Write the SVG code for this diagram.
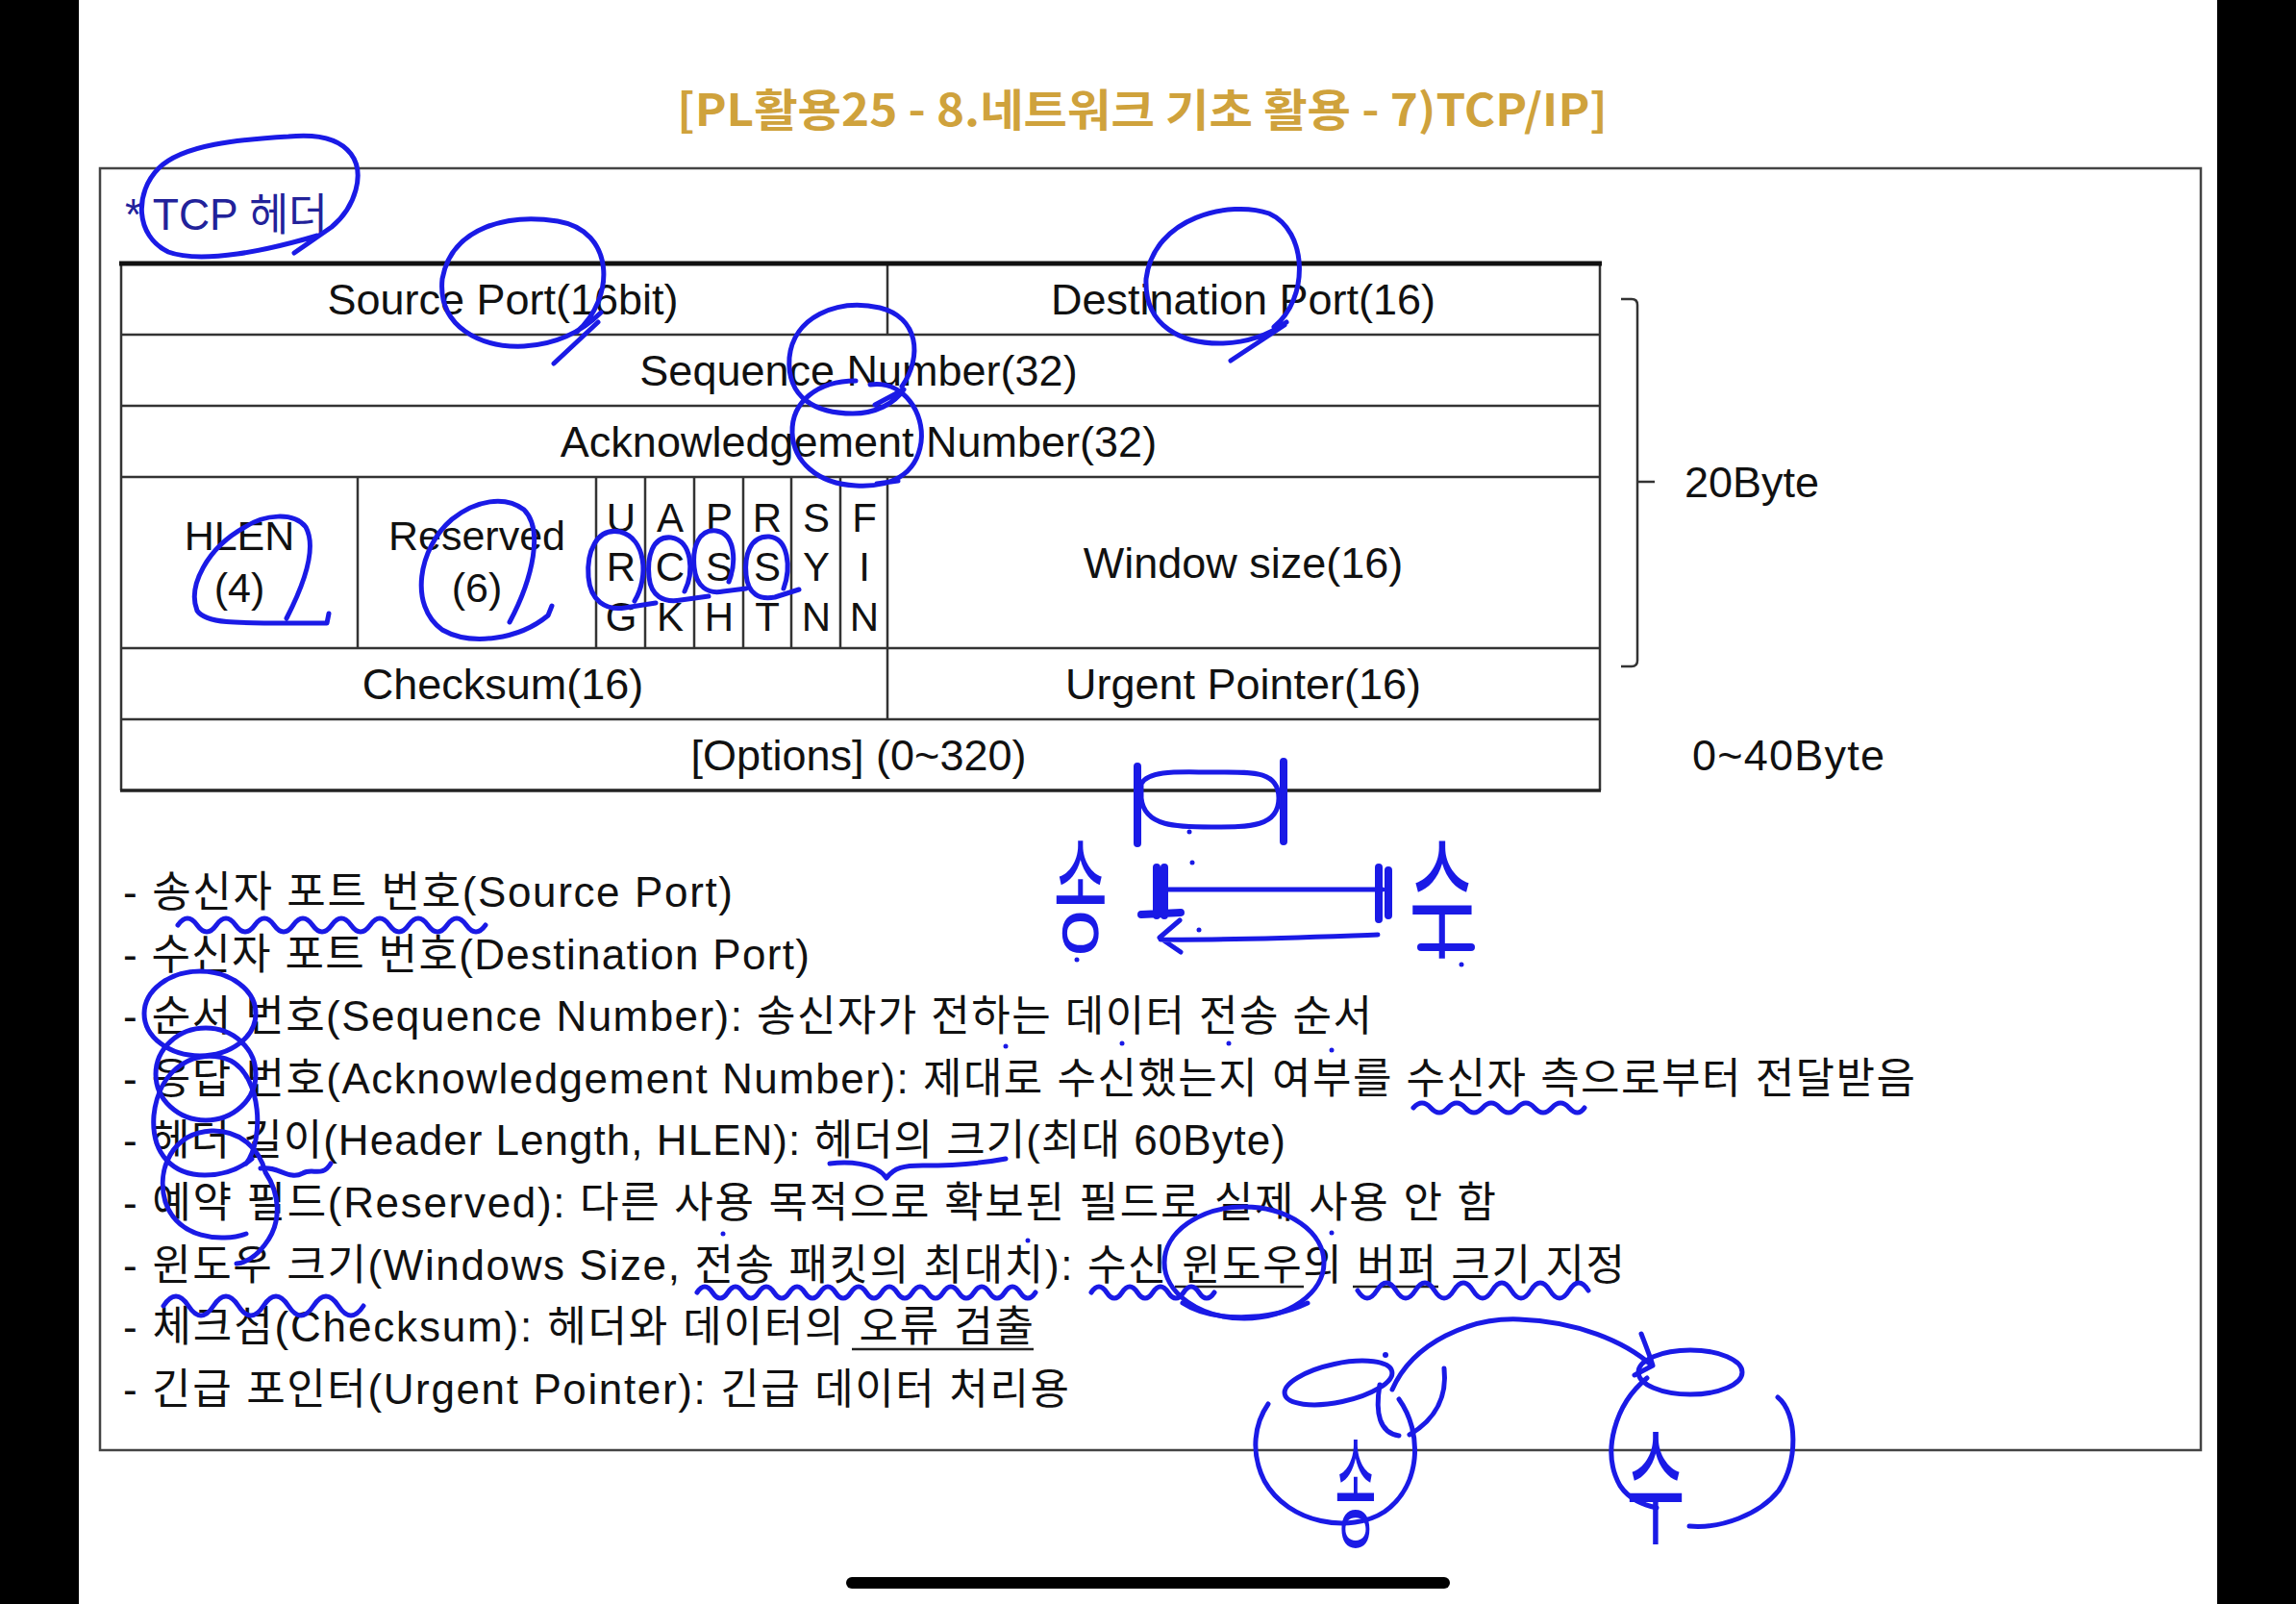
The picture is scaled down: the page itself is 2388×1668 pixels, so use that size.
<svg xmlns="http://www.w3.org/2000/svg" width="2388" height="1668" viewBox="0 0 2388 1668">
<style>
.tbl{font-family:"Liberation Sans",Arial,sans-serif;font-size:45px;fill:#111;text-anchor:middle}
.flag{font-size:42px}
.two{font-size:43px}
.side{font-family:"Liberation Sans",Arial,sans-serif;font-size:45px;fill:#111}
.list{font-family:"Liberation Sans","Noto Sans CJK KR",sans-serif;font-size:44px;fill:#111}
.ink{fill:none;stroke:#1a1ae6;stroke-width:5;stroke-linecap:round;stroke-linejoin:round}
.thick{stroke-width:8}
.dot{fill:#1a1ae6}
.grid{stroke:#333;stroke-width:2.5;fill:none}
.ul{stroke:#222;stroke-width:2.5}
.hand{font-family:"Noto Sans CJK KR",sans-serif;fill:#1a1ae6;text-anchor:middle}
</style>
<rect x="0" y="0" width="2388" height="1668" fill="#ffffff"/>
<rect x="0" y="0" width="82" height="1668" fill="#000"/>
<rect x="2306" y="0" width="82" height="1668" fill="#000"/>
<rect x="880" y="1640" width="628" height="12" rx="6" fill="#000"/>

<g id="title">
<text x="1188" y="131" font-family="'Noto Sans CJK KR',sans-serif" font-size="46" font-weight="bold" fill="#CFA23C" text-anchor="middle" textLength="968" lengthAdjust="spacingAndGlyphs">[PL활용25 - 8.네트워크 기초 활용 - 7)TCP/IP]</text>
</g>

<g id="frame">
<rect x="104" y="175" width="2185" height="1333" fill="none" stroke="#444" stroke-width="2.5"/>
</g>

<g id="heading">
<text x="130" y="239" font-family="'Liberation Sans','Noto Sans CJK KR',sans-serif" font-size="46" fill="#22229a" textLength="211" lengthAdjust="spacingAndGlyphs">* TCP 헤더</text>
</g>

<g id="tcp-header-table">
<path class="grid" d="M126 274V822M1664 274V822M126 348H1664M126 422H1664M126 496H1664M126 674H1664M126 748H1664M923 274V348M923 496V748M372 496V674M620 496V674M671 496V674M722 496V674M773 496V674M823 496V674M874 496V674"/>
<path d="M124 274H1666" stroke="#111" stroke-width="5"/>
<path d="M125 822H1665" stroke="#222" stroke-width="3.5"/>
<g id="cell-source-port"><text class="tbl" x="523" y="327">Source Port(16bit)</text></g>
<g id="cell-destination-port"><text class="tbl" x="1293" y="327">Destination Port(16)</text></g>
<g id="cell-sequence"><text class="tbl" x="893" y="401">Sequence Number(32)</text></g>
<g id="cell-ack"><text class="tbl" x="893" y="475">Acknowledgement Number(32)</text></g>
<g id="cell-hlen"><text class="tbl two" x="249" y="572">HLEN</text><text class="tbl two" x="249" y="626">(4)</text></g>
<g id="cell-reserved"><text class="tbl two" x="496" y="572">Reserved</text><text class="tbl two" x="496" y="626">(6)</text></g>
<g id="cell-flags" class="tbl flag">
<text x="646" y="553">U</text><text x="646" y="604">R</text><text x="646" y="656">G</text>
<text x="697" y="553">A</text><text x="697" y="604">C</text><text x="697" y="656">K</text>
<text x="748" y="553">P</text><text x="748" y="604">S</text><text x="748" y="656">H</text>
<text x="798" y="553">R</text><text x="798" y="604">S</text><text x="798" y="656">T</text>
<text x="849" y="553">S</text><text x="849" y="604">Y</text><text x="849" y="656">N</text>
<text x="899" y="553">F</text><text x="899" y="604">I</text><text x="899" y="656">N</text>
</g>
<g id="cell-window"><text class="tbl" x="1293" y="601">Window size(16)</text></g>
<g id="cell-checksum"><text class="tbl" x="523" y="727">Checksum(16)</text></g>
<g id="cell-urgent"><text class="tbl" x="1293" y="727">Urgent Pointer(16)</text></g>
<g id="cell-options"><text class="tbl" x="893" y="801">[Options] (0~320)</text></g>
</g>

<g id="size-labels">
<path d="M1686 311H1697Q1703 311 1703 317V687Q1703 693 1697 693H1686M1703 501H1721" fill="none" stroke="#333" stroke-width="2.5"/>
<text class="side" x="1752" y="517" textLength="140">20Byte</text>
<text class="side" x="1760" y="801" textLength="200">0~40Byte</text>
</g>

<g id="field-list" class="list">
<text x="128" y="943" textLength="634">- 송신자 포트 번호(Source Port)</text>
<text x="128" y="1008" textLength="714">- 수신자 포트 번호(Destination Port)</text>
<text x="128" y="1072" textLength="1299">- 순서 번호(Sequence Number): 송신자가 전하는 데이터 전송 순서</text>
<text x="128" y="1137" textLength="1864">- 응답 번호(Acknowledgement Number): 제대로 수신했는지 여부를 수신자 측으로부터 전달받음</text>
<text x="128" y="1201" textLength="1209">- 헤더 길이(Header Length, HLEN): 헤더의 크기(최대 60Byte)</text>
<text x="128" y="1266" textLength="1428">- 예약 필드(Reserved): 다른 사용 목적으로 확보된 필드로 실제 사용 안 함</text>
<text x="128" y="1331" textLength="1562">- 윈도우 크기(Windows Size, 전송 패킷의 최대치): 수신 윈도우의 버퍼 크기 지정</text>
<text x="128" y="1395" textLength="947">- 체크섬(Checksum): 헤더와 데이터의 오류 검출</text>
<text x="128" y="1460" textLength="984">- 긴급 포인터(Urgent Pointer): 긴급 데이터 처리용</text>
<path class="ul" d="M886 1403H1075M1222 1338H1356M1407 1338H1496"/>
</g>

<g id="annotations">
<path class="ink" d="M306 263L345 236C370 215 380 180 365 160C350 140 320 140 300 142C250 145 190 150 165 175C140 200 140 245 175 262C210 275 280 260 330 245"/>
<path class="ink" d="M600 345C640 310 640 240 580 230C530 222 470 235 460 290C455 340 500 362 545 360C580 358 605 345 625 325M622 335L576 378"/>
<path class="ink" d="M1325 340C1362 310 1360 240 1320 222C1280 208 1200 225 1192 290C1190 340 1230 358 1272 357C1300 356 1320 348 1338 335M1336 338L1280 375"/>
<path class="ink" d="M938 402C960 370 955 330 915 320C870 310 825 330 821 372C818 415 850 430 887 430C910 430 930 420 940 405L910 421"/>
<path class="ink" d="M905 400C940 395 962 430 958 460C953 495 925 507 890 505C850 503 825 480 824 450C823 418 850 396 890 396M912 503L934 500"/>
<path class="ink" d="M298 643C315 610 330 570 318 548C305 532 275 535 255 548C215 570 195 610 205 635C215 650 250 648 340 648L342 638"/>
<path class="ink" d="M530 647C555 600 565 550 545 530C525 515 495 520 470 540C435 570 425 630 460 655C490 672 540 665 570 640L574 630"/>
<path class="ink" d="M660 625C675 600 672 560 645 553C620 548 610 575 612 600C614 625 630 635 650 632L682 627"/>
<path class="ink" d="M712 615C722 595 720 562 698 559C678 557 673 580 675 600C677 620 690 627 708 624L737 620"/>
<path class="ink" d="M758 605C766 585 765 555 745 552C726 550 720 570 722 590C724 610 736 618 752 615L776 612"/>
<path class="ink" d="M815 612C823 590 820 560 800 558C780 557 774 578 776 598C778 618 790 624 806 621L831 613"/>
<path class="ink thick" d="M1183 797V877M1335 792V875"/>
<path class="ink" d="M1187 815C1195 800 1230 803 1260 803C1300 803 1330 800 1330 830C1330 860 1300 860 1260 860C1225 860 1190 860 1187 830Z"/>
<path class="ink thick" d="M1203 902V952M1211 902V952M1187 951L1228 949"/>
<path class="ink" d="M1207 925H1438"/>
<path class="ink thick" d="M1434 902V956M1444 905V952"/>
<path class="ink" d="M1433 972C1350 975 1280 978 1207 977M1227 957L1206 975L1228 990"/>
<text class="hand" font-size="68" transform="translate(1124 980) scale(0.9 1.9)">송</text>
<text class="hand" font-size="75" transform="translate(1500 985) scale(1 1.85)">수</text>
<path class="ink thick" d="M1478 985H1530"/>
<path class="ink" d="M185 962q10 -14 20 0t20 0t20 0t20 0t20 0t20 0t20 0t20 0t20 0t20 0t20 0t20 0t20 0t20 0t20 0t20 0"/>
<ellipse class="ink" cx="208" cy="1054" rx="58" ry="44"/>
<ellipse class="ink" cx="214" cy="1117" rx="52" ry="48"/>
<path class="ink" d="M256 1210C275 1185 272 1120 240 1103C205 1088 165 1110 160 1160C157 1200 180 1222 213 1222C235 1222 250 1215 262 1205"/>
<path class="ink" d="M256 1283C230 1292 185 1288 172 1250C162 1215 180 1178 220 1176C250 1175 270 1195 276 1219C290 1240 295 1270 275 1295C265 1308 255 1313 246 1314"/>
<path class="ink" d="M271 1215C290 1212 300 1228 315 1220C325 1214 335 1225 344 1210"/>
<path class="ink" d="M170 1358q13 -20 26 0t26 0t26 0t26 0t26 0t26 0t26 0t26 0"/>
<path class="ink" d="M1470 1152q9 -10 18 0t18 0t18 0t18 0t18 0t18 0t18 0t18 0t18 0t16 0"/>
<path class="ink" d="M863 1210C880 1208 910 1208 922 1225C930 1214 940 1212 960 1212C990 1212 1020 1210 1046 1205"/>
<path class="ink" d="M725 1344q8 -12 16 0t16 0t16 0t16 0t16 0t16 0t16 0t16 0t16 0t16 0t16 0t16 0t16 0t16 0t16 0t16 0t16 0t16 0t16 0t16 0t16 0t16 0"/>
<path class="ink" d="M1135 1344q8 -12 16 0t16 0t16 0t16 0t16 0t16 0t16 0t16 0"/>
<path class="ink" d="M1412 1342q10 16 20 0t20 0t20 0t20 0t20 0t20 0t20 0t20 0t20 0t20 0t20 0t20 0"/>
<ellipse class="ink" cx="1294" cy="1313" rx="83" ry="58"/>
<path class="ink" d="M1230 1355C1260 1375 1320 1374 1360 1355"/>
<path class="ink" d="M1455 1455C1480 1490 1478 1545 1440 1572C1405 1595 1340 1585 1315 1540C1300 1510 1305 1480 1319 1460"/>
<ellipse class="ink" cx="1392" cy="1438" rx="57" ry="20" transform="rotate(-12 1392 1438)"/>
<path class="ink" d="M1435 1440C1430 1470 1435 1490 1455 1493M1502 1423C1505 1450 1495 1475 1466 1492"/>
<path class="ink" d="M1448 1445C1470 1395 1530 1370 1580 1372C1640 1374 1690 1395 1718 1420M1707 1387C1712 1400 1716 1410 1719 1420L1700 1430"/>
<ellipse class="ink" cx="1758" cy="1427" rx="54" ry="23"/>
<path class="ink" d="M1713 1433C1680 1460 1665 1510 1685 1545C1695 1560 1710 1565 1723 1568M1849 1453C1870 1470 1870 1520 1850 1550C1830 1575 1790 1590 1757 1587"/>
<text class="hand" font-size="55" transform="translate(1410 1600) scale(0.85 2.3)">송</text>
<text class="hand" font-size="70" transform="translate(1722 1595) scale(0.95 1.9)">수</text>
<circle class="dot" cx="1237" cy="865" r="2.5"/><circle class="dot" cx="1240" cy="897" r="2.5"/>
<circle class="dot" cx="1247" cy="967" r="2.5"/><circle class="dot" cx="1520" cy="1003" r="2.5"/>
<circle class="dot" cx="1120" cy="998" r="2.5"/><circle class="dot" cx="1046" cy="1088" r="2.5"/>
<circle class="dot" cx="1167" cy="1085" r="2.5"/><circle class="dot" cx="1278" cy="1085" r="2.5"/>
<circle class="dot" cx="1385" cy="1092" r="2.5"/><circle class="dot" cx="752" cy="1283" r="2.5"/>
<circle class="dot" cx="1069" cy="1290" r="2.5"/><circle class="dot" cx="1385" cy="1282" r="2.5"/>
<circle class="dot" cx="1441" cy="1409" r="3"/>
</g>
</svg>
